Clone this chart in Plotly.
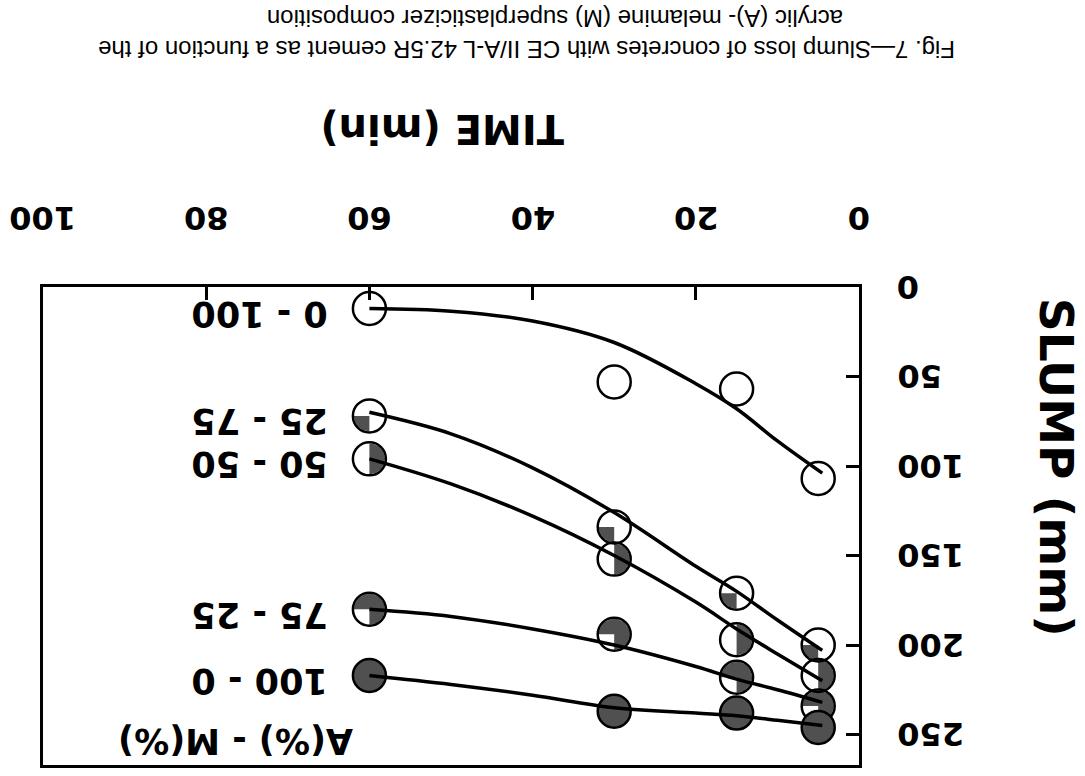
import numpy as np
import plotly.graph_objects as go

# ---------------- data ----------------
times = [5, 15, 30, 60]
series_names = ["0 - 100", "25 - 75", "50 - 50", "75 - 25", "100 - 0"]
slump_0_100 = [107, 57, 53, 12]
slump_25_75 = [200, 171, 134, 72]
slump_50_50 = [217, 197, 152, 96]
slump_75_25 = [234, 218, 194, 180]
slump_100_0 = [246, 238, 237, 217]

curve_times = [60, 50, 40, 30, 20, 15, 10, 4.5]
curve_0_100 = [12, 13.5, 19, 31, 54, 68, 86, 104]
curve_25_75 = [70, 82, 101, 126, 156, 170, 186, 203]
curve_50_50 = [96, 110, 128, 150, 176, 191, 205, 220]
curve_75_25 = [180, 184, 191, 200, 212, 219, 225, 232]
curve_100_0 = [217, 222, 228, 235, 238, 239.5, 242, 245]

x_ticks = [0, 20, 40, 60, 80, 100]
x_tick_labels = ["0", "20", "40", "60", "80", "100"]
y_ticks = [0, 50, 100, 150, 200, 250]
y_tick_labels = ["0", "50", "100", "150", "200", "250"]

caption_1 = "Fig. 7\u2014Slump loss of concretes with CE II/A-L 42.5R cement as a function of the"
caption_2 = "acrylic (A)- melamine (M) superplasticizer composition"
x_title = "TIME (min)"
y_title = "SLUMP (mm)"
legend_title = "A(%) - M(%)"

points = [slump_0_100, slump_25_75, slump_50_50, slump_75_25, slump_100_0]
curves = [curve_0_100, curve_25_75, curve_50_50, curve_75_25, curve_100_0]

# ---------------- style / layout ----------------
W, H = 1085, 776
L, R, T, B = 43, 226, 287, 8
X_RANGE = [100, 0]
Y_RANGE = [267, 0]
PW, PH = W - L - R, H - T - B
PX_X = PW / abs(X_RANGE[0] - X_RANGE[1])
PX_Y = PH / abs(Y_RANGE[0] - Y_RANGE[1])

GRAY = "#505050"
BOLD = "DejaVu Sans, Verdana, sans-serif"
NARROW = "Liberation Sans Narrow, Arial Narrow, Liberation Sans, sans-serif"
MSIZE = 33
# filled sector (screen degrees) per series, None = open, "full" = solid
fills = [None, (180, 270), (-90, 90), (-90, 180), "full"]


def px(xp, yp):
    return (xp - L) / PW, 1 - (yp - T) / PH


def bold(size):
    return dict(family=BOLD, size=size, color="black", weight="bold")


fig = go.Figure()

# filled sectors of the markers
for vals, f in zip(points, fills):
    if f is None or f == "full":
        continue
    xs, ys = [], []
    r = MSIZE / 2 - 1
    for t0, s0 in zip(times, vals):
        ang = np.radians(np.linspace(f[0], f[1], 40))
        xs += [t0] + list(t0 - r * np.cos(ang) / PX_X) + [t0, None]
        ys += [s0] + list(s0 - r * np.sin(ang) / PX_Y) + [s0, None]
    fig.add_trace(go.Scatter(x=xs, y=ys, mode="lines", fill="toself",
                             fillcolor=GRAY, line=dict(width=0, color=GRAY),
                             hoverinfo="skip", showlegend=False))

# marker outlines
for vals, f, name in zip(points, fills, series_names):
    fig.add_trace(go.Scatter(
        x=times, y=vals, mode="markers", name=name, showlegend=False,
        marker=dict(symbol="circle" if f == "full" else "circle-open",
                    size=MSIZE, color=GRAY if f == "full" else "black",
                    line=dict(width=2.5, color="black"))))

# fitted curves
for c, name in zip(curves, series_names):
    fig.add_trace(go.Scatter(x=curve_times, y=c, mode="lines", name=name,
                             showlegend=False, line=dict(color="black", width=3.5,
                                                         shape="spline", smoothing=1.0)))

ann = []
common = dict(showarrow=False, textangle=180, xanchor="center", yanchor="middle")
# series labels, to the left of the 60-min points
for vals, name in zip(points, series_names):
    ann.append(dict(x=60, y=vals[-1], xref="x", yref="y", text=name,
                    xshift=-110, yshift=-5, font=bold(35), **common))
lx, ly = px(236, 744)
ann.append(dict(x=lx, y=ly, xref="paper", yref="paper", text=legend_title,
                font=bold(35), **common))
# tick labels (axis scales)
_, ty = px(0, 217)
for v, t in zip(x_ticks, x_tick_labels):
    ann.append(dict(x=v, y=ty, xref="x", yref="paper", text=t, font=bold(32), **common))
tx, _ = px(895, 0)
for v, t in zip(y_ticks, y_tick_labels):
    ann.append(dict(x=tx, y=v, xref="paper", yref="y", text=t, font=bold(32),
                    showarrow=False, textangle=180, xanchor="left", yanchor="middle"))
# axis titles
ax_, ay_ = px(442, 128)
ann.append(dict(x=ax_, y=ay_, xref="paper", yref="paper", text=x_title,
                font=bold(40), **common))
bx_, by_ = px(1056, 468)
ann.append(dict(x=bx_, y=by_, xref="paper", yref="paper", text=y_title,
                font=bold(47), showarrow=False, textangle=90,
                xanchor="center", yanchor="middle"))
# caption
c1x, c1y = px(527, 48)
ann.append(dict(x=c1x, y=c1y, xref="paper", yref="paper", text=caption_1,
                font=dict(family=NARROW, size=24, color="black"), **common))
c2x, c2y = px(555, 17)
ann.append(dict(x=c2x, y=c2y, xref="paper", yref="paper", text=caption_2,
                font=dict(family=NARROW, size=24, color="black"), **common))

axis_common = dict(ticks="inside", ticklen=13, tickwidth=2.5, tickcolor="black",
                   showline=True, linewidth=3, linecolor="black", mirror=True,
                   showgrid=False, zeroline=False, showticklabels=False)
fig.update_layout(
    width=W, height=H, margin=dict(l=L, r=R, t=T, b=B, pad=0),
    paper_bgcolor="white", plot_bgcolor="white", showlegend=False,
    annotations=ann,
    xaxis=dict(range=X_RANGE, side="top", tickvals=x_ticks, **axis_common),
    yaxis=dict(range=Y_RANGE, side="right", tickvals=y_ticks, **axis_common),
)

fig.write_html("out.html")
